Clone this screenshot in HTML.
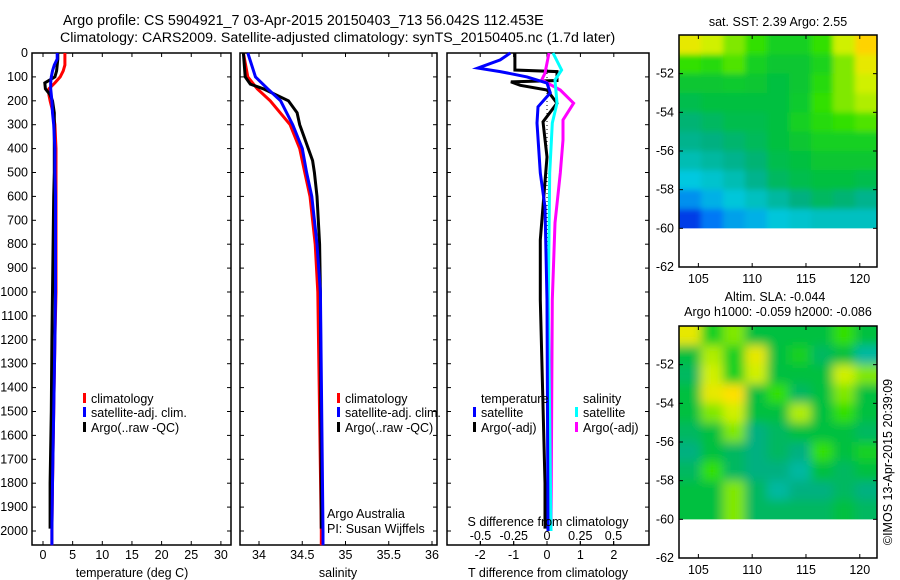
<!DOCTYPE html>
<html><head><meta charset="utf-8"><style>
html,body{margin:0;padding:0;background:#fff;}
svg{display:block;font-family:"Liberation Sans",sans-serif;}
text{font-size:12.5px;fill:#000;}
</style></head><body>
<svg id="fig" width="900" height="580" viewBox="0 0 900 580" xmlns="http://www.w3.org/2000/svg">
<rect width="900" height="580" fill="#fff"/>
<text x="63" y="25" style="font-size:14.3px">Argo profile: CS 5904921_7 03-Apr-2015 20150403_713 56.042S 112.453E</text>
<text x="60" y="42" style="font-size:14.2px">Climatology: CARS2009. Satellite-adjusted climatology: synTS_20150405.nc (1.7d later)</text>
<g id="g"></g>
</svg>
<script>
// ---- data ----
const depthTicks=[0,100,200,300,400,500,600,700,800,900,1000,1100,1200,1300,1400,1500,1600,1700,1800,1900,2000];
const tDepth=[0,25,50,75,100,125,150,175,200,250,300,400,500,600,800,1000,1200,1500,1800,2000,2060];
const tClim=[3.7,3.7,3.7,3.4,2.9,2.0,1.0,1.0,1.2,1.7,2.0,2.2,2.2,2.2,2.2,2.2,2.0,1.8,1.6,1.5,1.5];
const tSat=[2.4,2.4,1.9,1.6,1.4,1.3,1.3,1.4,1.5,1.6,1.8,2.0,2.0,2.1,2.1,2.1,2.0,1.8,1.6,1.5,1.5];
const tArgoDepth=[0,25,50,75,100,125,150,175,200,250,300,400,500,600,800,1000,1200,1500,1800,1990];
const tArgo=[2.5,2.5,2.4,2.3,2.0,0.3,0.4,1.2,1.6,1.9,1.9,1.9,1.9,1.8,1.7,1.6,1.5,1.4,1.2,1.2];
const tTicks=[0,5,10,15,20,25,30];
const sDepth=[0,100,150,200,300,400,500,600,700,800,1000,2000,2060];
const sClim=[33.82,33.87,33.98,34.13,34.36,34.47,34.53,34.59,34.62,34.65,34.68,34.72,34.72];
const sSat=[33.87,33.96,34.1,34.25,34.39,34.5,34.55,34.61,34.64,34.67,34.71,34.74,34.74];
const sArgoDepth=[0,100,130,150,200,250,300,350,400,450,500,600,800,1000,1990];
const sArgo=[33.82,33.84,33.9,34.05,34.34,34.44,34.47,34.52,34.57,34.62,34.64,34.67,34.7,34.71,34.72];
const sTicks=[34,34.5,35,35.5,36];
const sTickLabels=['34','34.5','35','35.5','36'];
const dTSatDepth=[0,29,63,78,100,126,167,225,293,502,644,1033,2000];
const dTSat=[-1.1,-1.4,-2.07,-1.4,-0.6,0,0.1,-0.27,-0.3,-0.2,-0.06,0,0.03];
const dTArgoDepth=[0,71,78,115,121,135,155,210,288,435,782,1033,1800,1990];
const dTArgo=[-0.96,-0.96,0.3,0.3,-1.08,-0.8,0,0.3,-0.12,0,-0.2,-0.2,-0.06,-0.06];
const dSArgoDepth=[0,84,113,155,210,280,364,502,711,1033,1990];
const dSArgo=[0.015,-0.015,-0.04,0.1,0.2,0.12,0.12,0.1,0.06,0.04,0.03];
const dSSatDepth=[0,71,113,210,293,502,1033,2000];
const dSSat=[0.045,0.11,0.06,0.075,0.04,0.02,0.01,0.03];
const dTTicks=[-2,-1,0,1,2];
const dSTicks=[-0.5,-0.25,0,0.25,0.5];
const dSTickLabels=['-0.5','-0.25','0','0.25','0.5'];
const lonTicks=[105,110,115,120];
const latTicks=[52,54,56,58,60,62];
const sstGrid=[
[.85,.8,.75,.7,.65,.65,.7,.8,.92],
[.7,.68,.72,.65,.62,.62,.66,.75,.85],
[.62,.62,.63,.62,.6,.62,.68,.75,.8],
[.58,.6,.6,.6,.6,.63,.7,.75,.78],
[.52,.55,.58,.58,.6,.65,.68,.7,.72],
[.48,.5,.53,.56,.6,.62,.65,.65,.65],
[.42,.45,.48,.52,.58,.6,.62,.62,.62],
[.35,.38,.42,.48,.55,.58,.6,.6,.58],
[.28,.32,.36,.4,.45,.5,.55,.52,.48],
[.15,.25,.3,.32,.36,.38,.4,.4,.4]];
const slaGrid=[
[.85,.65,.75,.6,.6,.6,.6,.7,.6],
[.6,.78,.65,.85,.6,.65,.55,.6,.45],
[.55,.8,.65,.8,.6,.6,.6,.8,.75],
[.6,.85,.9,.6,.7,.55,.6,.75,.6],
[.6,.75,.8,.6,.6,.78,.6,.7,.6],
[.55,.6,.75,.5,.55,.6,.6,.6,.55],
[.5,.6,.55,.5,.55,.5,.7,.6,.65],
[.55,.7,.55,.5,.5,.45,.6,.55,.6],
[.6,.6,.75,.55,.45,.5,.5,.55,.5],
[.6,.6,.75,.55,.55,.55,.55,.6,.55]];

// ---- helpers ----
const NS='http://www.w3.org/2000/svg';
const G=document.getElementById('g');
function mk(tag,attrs,parent){const e=document.createElementNS(NS,tag);for(const k in attrs)e.setAttribute(k,attrs[k]);(parent||G).appendChild(e);return e;}
function txt(x,y,s,anchor,name,extra){const e=mk('text',Object.assign({x:x,y:y,'text-anchor':anchor||'start'},extra||{}));e.textContent=s;


return e;}
const TOP=53,BOT=545;
const yD=d=>TOP+d*0.239;
const xT=v=>43+v*5.93;
const xS=v=>259+(v-34)*86.5;
const xDT=v=>547+v*33.4;
const xDS=v=>547+v*133;

function frame(x0,x1,name){
 const r=mk('rect',{x:x0,y:TOP,width:x1-x0,height:BOT-TOP,fill:'none',stroke:'#000','stroke-width':1.5});
 
 
 depthTicks.forEach(d=>{const y=yD(d);
  mk('line',{x1:x0,x2:x0+4,y1:y,y2:y,stroke:'#000'});
  mk('line',{x1:x1-4,x2:x1,y1:y,y2:y,stroke:'#000'});});
}
function line(xs,ds,xf,color,name,w){
 const pts=xs.map((v,i)=>xf(v).toFixed(1)+','+yD(ds[i]).toFixed(1)).join(' ');
 const p=mk('polyline',{points:pts,fill:'none',stroke:color,'stroke-width':w||3,'stroke-linejoin':'miter'});
 
 
}
function xticks(ticks,labels,xf){
 ticks.forEach((t,i)=>{const x=xf(t);
  mk('line',{x1:x,x2:x,y1:BOT,y2:BOT-4,stroke:'#000'});
  mk('line',{x1:x,x2:x,y1:TOP,y2:TOP+4,stroke:'#000'});
  txt(x,559,labels[i],'middle','x-tick-label');});
}
function legendEntry(x,y,color,label,name){
 const r=mk('rect',{x:x,y:y-6,width:3,height:10,fill:color});
 
 
 txt(x+8,y+4,label,'start',name);
}

// Panel 1 temperature
frame(32,231,'temperature-panel');
depthTicks.forEach(d=>txt(28,yD(d)+4,String(d),'end','depth-tick-label'));
xticks(tTicks,tTicks.map(String),xT);
line(tClim,tDepth,xT,'#f00','temp-climatology-line');
line(tArgo,tArgoDepth,xT,'#000','temp-argo-line');
line(tSat,tDepth,xT,'#00f','temp-satellite-line');
txt(132,577,'temperature (deg C)','middle','temperature-axis-title');
legendEntry(83,399,'#f00','climatology','legend-climatology');
legendEntry(83,413,'#00f','satellite-adj. clim.','legend-satellite');
legendEntry(83,428,'#000','Argo(..raw -QC)','legend-argo');

// Panel 2 salinity
frame(240,437,'salinity-panel');
xticks(sTicks,sTickLabels,xS);
line(sClim,sDepth,xS,'#f00','sal-climatology-line');
line(sArgo,sArgoDepth,xS,'#000','sal-argo-line');
line(sSat,sDepth,xS,'#00f','sal-satellite-line');
txt(338,577,'salinity','middle','salinity-axis-title');
legendEntry(337,399,'#f00','climatology','legend-climatology-2');
legendEntry(337,413,'#00f','satellite-adj. clim.','legend-satellite-2');
legendEntry(337,428,'#000','Argo(..raw -QC)','legend-argo-2');
txt(327,518,'Argo Australia','start','credit-argo-australia');
txt(327,533,'PI: Susan Wijffels','start','credit-pi');

// Panel 3 differences
frame(447,649,'difference-panel');
xticks(dTTicks,dTTicks.map(String),xDT);
dSTicks.forEach((t,i)=>{const x=xDS(t);mk('line',{x1:x,x2:x,y1:BOT,y2:BOT-4,stroke:'#000'});txt(x,540,dSTickLabels[i],'middle','s-diff-tick-label');});
mk('line',{x1:xDT(0),x2:xDT(0),y1:yD(0),y2:yD(2000),stroke:'#000','stroke-dasharray':'1,3'});
line(dTArgo,dTArgoDepth,xDT,'#000','tdiff-argo-line');
line(dSArgo,dSArgoDepth,xDS,'#f0f','sdiff-argo-line');
line(dSSat,dSSatDepth,xDS,'#0ff','sdiff-satellite-line');
line(dTSat,dTSatDepth,xDT,'#00f','tdiff-satellite-line');
txt(548,526,'S difference from climatology','middle','s-diff-axis-title');
txt(548,577,'T difference from climatology','middle','t-diff-axis-title');
txt(481,403,'temperature','start','legend-temperature-header');
txt(583,403,'salinity','start','legend-salinity-header');
legendEntry(473,413,'#00f','satellite','legend-tdiff-satellite');
legendEntry(473,428,'#000','Argo(-adj)','legend-tdiff-argo');
legendEntry(575,413,'#0ff','satellite','legend-sdiff-satellite');
legendEntry(575,428,'#f0f','Argo(-adj)','legend-sdiff-argo');

// ---- maps ----
const stops=[[0,[0,0,160]],[0.2,[0,80,255]],[0.35,[0,200,224]],[0.5,[0,176,128]],[0.6,[0,192,64]],[0.7,[48,224,0]],[0.8,[208,240,0]],[0.9,[255,224,0]],[1,[255,160,0]]];
function cmap(v){for(let i=1;i<stops.length;i++){if(v<=stops[i][0]){const a=stops[i-1],b=stops[i],f=(v-a[0])/(b[0]-a[0]);
 return 'rgb('+a[1].map((c,j)=>Math.round(c+(b[1][j]-c)*f)).join(',')+')';}}return 'rgb(255,160,0)';}
const MX0=679,MX1=877,LON0=103.2,LON1=121.6;
const xL=l=>MX0+(l-LON0)*(MX1-MX0)/(LON1-LON0);
const defs=mk('defs',{});
function drawMap(top,grid,name,blur){
 const bot=top+232;
 const yLat=la=>top+(la-50)*(bot-top)/12;
 const cp=mk('clipPath',{id:'clip'+name},defs);
 mk('rect',{x:MX0,y:top,width:MX1-MX0,height:yLat(60)-top},cp);
 const flt=mk('filter',{id:'bl'+name,x:'-0.1',y:'-0.1',width:'1.2',height:'1.2'},defs);
 mk('feGaussianBlur',{stdDeviation:String(blur)},flt);
 const outer=mk('g',{'clip-path':'url(#clip'+name+')'});
 const grp=mk('g',{filter:'url(#bl'+name+')'},outer);
 
 
 const rows=grid.length,cols=grid[0].length;
 const cw=(LON1-LON0)/cols, ch=10/rows;
 grid.forEach((row,r)=>row.forEach((v,c)=>{
  let x=xL(LON0+c*cw),y=yLat(50+r*ch);
  let x2=xL(LON0+(c+1)*cw)+0.6,y2=yLat(50+(r+1)*ch)+0.6;
  if(c===0)x-=20; if(c===cols-1)x2+=20; if(r===0)y-=20; if(r===rows-1)y2+=20;
  const cell=mk('rect',{x:x.toFixed(1),y:y.toFixed(1),width:(x2-x).toFixed(1),height:(y2-y).toFixed(1),fill:cmap(v)},grp);
  
  
 }));
 const f=mk('rect',{x:MX0,y:top,width:MX1-MX0,height:bot-top,fill:'none',stroke:'#000','stroke-width':1.5});
 
 
 lonTicks.forEach(l=>{const x=xL(l);mk('line',{x1:x,x2:x,y1:bot,y2:bot-4,stroke:'#000'});mk('line',{x1:x,x2:x,y1:top,y2:top+4,stroke:'#000'});txt(x,bot+16,String(l),'middle','lon-tick-label');});
 latTicks.forEach(la=>{const y=yLat(la);mk('line',{x1:MX0,x2:MX0+4,y1:y,y2:y,stroke:'#000'});mk('line',{x1:MX1-4,x2:MX1,y1:y,y2:y,stroke:'#000'});txt(674,y+4,'-'+la,'end','lat-tick-label');});
}
drawMap(35,sstGrid,'sst-map',3);
drawMap(326,slaGrid,'sla-map',5);
txt(778,26,'sat. SST: 2.39 Argo: 2.55','middle','sst-map-title');
txt(775,301,'Altim. SLA: -0.044','middle','sla-map-title');
txt(778,316,'Argo h1000: -0.059 h2000: -0.086','middle','sla-map-subtitle');
txt(0,0,'©IMOS 13-Apr-2015 20:39:09','middle','imos-copyright',{transform:'translate(892,462) rotate(-90)'});
</script>
</body></html>
